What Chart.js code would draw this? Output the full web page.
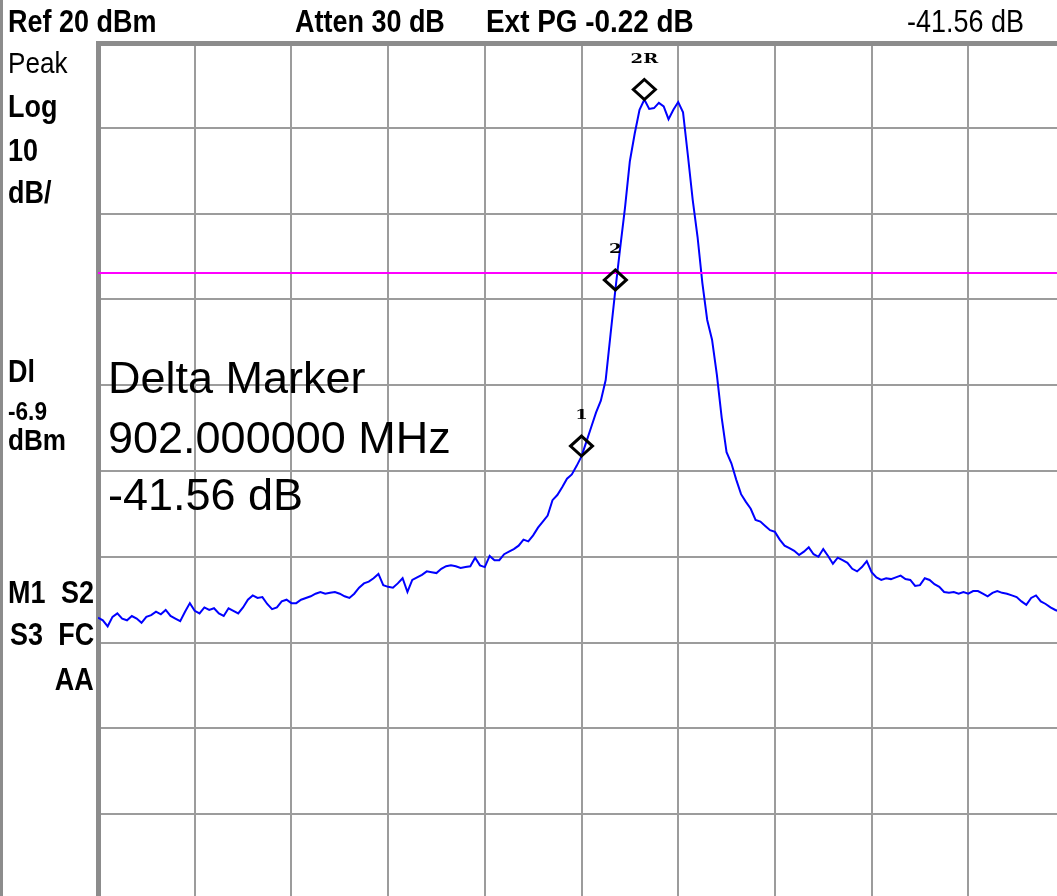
<!DOCTYPE html>
<html>
<head>
<meta charset="utf-8">
<title>Spectrum</title>
<script src="https://cdn.jsdelivr.net/npm/chart.js@4.4.1/dist/chart.umd.min.js"></script>
<style>
  html, body { margin: 0; padding: 0; background: #fff; overflow: hidden; }
  #screen { position: relative; width: 1057px; height: 896px; overflow: hidden; background: #fff; }
  #screen canvas { position: absolute; left: 0; top: 0; }
  #edge { position: absolute; left: 0; top: 0; width: 3px; height: 896px; background: #8c8c8c; }
  .lbl { position: absolute; white-space: nowrap; line-height: 1; color: #000;
         font-family: "Liberation Sans Narrow", "Liberation Sans", Arial, sans-serif; font-size: 31px; font-weight: bold;
         transform: scaleX(0.87); transform-origin: left top; }
  .lbl.rt { transform-origin: right top; }
  .reg { font-weight: normal; }
  .big { font-family: "Liberation Sans", Arial, sans-serif; font-size: 45px; font-weight: normal; left: 108px; transform: none; }
</style>
</head>
<body>
<div id="screen">
  <canvas id="trace" width="1065" height="900"></canvas>
  <div id="edge"></div>

  <div class="lbl" style="left:8px; top:6px" id="refTxt"></div>
  <div class="lbl" style="left:295px; top:6px" id="attTxt"></div>
  <div class="lbl" style="left:486px; top:6px; transform: scaleX(0.9)" id="pgTxt"></div>
  <div class="lbl reg" style="left:907px; top:6px" id="deltaTop"></div>

  <div class="lbl reg" style="left:8px; top:48px; font-size:30px">Peak</div>
  <div class="lbl" style="left:8px; top:91px">Log</div>
  <div class="lbl" style="left:8px; top:135px" id="scaleTxt"></div>
  <div class="lbl" style="left:8px; top:177px">dB/</div>

  <div class="lbl" style="left:8px; top:356px">Dl</div>
  <div class="lbl" style="left:8px; top:398px; font-size:26px" id="dlTxt"></div>
  <div class="lbl" style="left:8px; top:425px; font-size:30px">dBm</div>

  <div class="lbl" style="left:8px; top:577px">M1</div>
  <div class="lbl rt" style="right:963px; top:577px">S2</div>
  <div class="lbl" style="left:10px; top:619px">S3</div>
  <div class="lbl rt" style="right:963px; top:619px">FC</div>
  <div class="lbl rt" style="right:963px; top:664px">AA</div>

  <div class="lbl big" style="top:355px">Delta Marker</div>
  <div class="lbl big" style="top:415px" id="freqTxt"></div>
  <div class="lbl big" style="top:472px" id="deltaTxt"></div>
</div>

<script>
// analyzer settings
const refLevelDbm = 20;
const dbPerDiv = 10;
const attenDb = 30;
const extGainDb = -0.22;
const displayLineDbm = -6.9;
const deltaFreqMHz = 902;
const deltaDb = -41.56;

// sweep trace, one reading every 1/20 division (dBm)
const traceDbm = [
  -47.1, -47.4, -48.1, -47.0, -46.6, -47.2, -47.4, -46.9, -47.2, -47.7,
  -47.0, -46.8, -46.4, -46.7, -46.2, -46.9, -47.2, -47.5, -46.4, -45.4,
  -46.3, -46.6, -45.9, -46.2, -46.0, -46.6, -46.9, -46.0, -46.3, -46.6,
  -45.9, -45.0, -44.5, -44.8, -44.7, -45.5, -46.1, -45.9, -45.2, -45.0,
  -45.4, -45.4, -45.0, -44.8, -44.6, -44.3, -44.1, -44.3, -44.2, -44.1,
  -44.3, -44.6, -44.8, -44.3, -43.6, -43.1, -42.9, -42.5, -42.0, -43.3,
  -43.5, -43.6, -43.1, -42.5, -44.1, -42.7, -42.4, -42.1, -41.7, -41.8,
  -41.9, -41.4, -41.1, -41.0, -41.1, -41.3, -41.2, -41.1, -40.1, -41.0,
  -41.2, -39.9, -40.4, -40.4, -39.7, -39.4, -39.1, -38.7, -38.0, -38.2,
  -37.5, -36.6, -35.9, -35.2, -33.4, -32.8, -31.9, -30.9, -30.4, -29.4,
  -28.3, -26.6, -24.9, -23.2, -21.8, -19.4, -14.1, -8.9, -4.0, 0.7,
  6.1, 9.3, 12.1, 13.3, 12.2, 12.3, 12.9, 12.5, 11.0, 12.1,
  13.0, 11.8, 6.8, 1.6, -2.7, -8.1, -12.4, -14.7, -18.8, -23.8,
  -27.8, -29.1, -31.0, -32.7, -33.6, -34.4, -35.7, -35.9, -36.4, -36.9,
  -37.1, -38.0, -38.7, -39.0, -39.3, -39.8, -39.4, -38.9, -39.7, -40.0,
  -39.1, -39.9, -40.8, -40.1, -40.4, -40.7, -41.4, -41.7, -41.2, -40.5,
  -41.8, -42.4, -42.7, -42.5, -42.6, -42.4, -42.2, -42.6, -42.7, -43.4,
  -43.3, -42.5, -42.7, -43.2, -43.5, -44.1, -44.2, -44.1, -44.3, -44.1,
  -44.3, -44.0, -44.0, -44.3, -44.6, -44.2, -44.0, -44.2, -44.3, -44.5,
  -44.7, -45.2, -45.6, -44.8, -44.5, -45.2, -45.5, -45.9, -46.2, -46.4,
  -46.6
];
const sampleIdx = traceDbm.map((v, i) => i);

// markers: reference (2R) on the peak, 2 on the rising edge, 1 = delta from 2R
const refMarkerIdx = 113;
const markerIdx = [113, 107, 100];
const markerNames = ['2R', '2', '1'];
const markerLevel = [
  traceDbm[refMarkerIdx],
  traceDbm[107],
  traceDbm[refMarkerIdx] + deltaDb
];

const ptsPerDiv = 20;
const numDivs = 10;

document.getElementById('refTxt').textContent = 'Ref ' + refLevelDbm + ' dBm';
document.getElementById('attTxt').textContent = 'Atten ' + attenDb + ' dB';
document.getElementById('pgTxt').textContent = 'Ext PG ' + extGainDb.toFixed(2) + ' dB';
document.getElementById('deltaTop').textContent = deltaDb.toFixed(2) + ' dB';
document.getElementById('scaleTxt').textContent = dbPerDiv;
document.getElementById('dlTxt').textContent = displayLineDbm;
document.getElementById('freqTxt').textContent = deltaFreqMHz.toFixed(6) + ' MHz';
document.getElementById('deltaTxt').textContent = deltaDb.toFixed(2) + ' dB';

// thick frame on the top and left edges of the graticule
const framePlugin = {
  id: 'frame',
  beforeDatasetsDraw(chart) {
    const { ctx, chartArea: a } = chart;
    ctx.save();
    ctx.fillStyle = '#8c8c8c';
    ctx.fillRect(a.left - 2, a.top - 1, a.right - a.left + 2, 5);
    ctx.fillRect(a.left - 2, a.top - 1, 5, a.bottom - a.top + 1);
    ctx.restore();
  }
};

// display line and marker diamonds
const markerPlugin = {
  id: 'markers',
  afterDatasetsDraw(chart) {
    const { ctx, chartArea: a, scales: { x, y } } = chart;
    ctx.save();
    const dl = Math.round(y.getPixelForValue(displayLineDbm));
    ctx.strokeStyle = '#ff00ff';
    ctx.lineWidth = 2;
    ctx.beginPath();
    ctx.moveTo(a.left, dl);
    ctx.lineTo(a.right, dl);
    ctx.stroke();

    markerIdx.forEach((idx, k) => {
      const px = x.getPixelForValue(idx);
      const py = y.getPixelForValue(markerLevel[k]);
      ctx.beginPath();
      ctx.moveTo(px, py - 20);
      ctx.lineTo(px + 11, py - 10);
      ctx.lineTo(px, py);
      ctx.lineTo(px - 11, py - 10);
      ctx.closePath();
      ctx.lineWidth = 3;
      ctx.strokeStyle = '#000';
      ctx.stroke();

      ctx.save();
      ctx.translate(px, py - 40);
      ctx.scale(1.5, 1);
      ctx.font = 'bold 12px "DejaVu Serif", serif';
      ctx.textAlign = 'center';
      ctx.textBaseline = 'middle';
      ctx.fillStyle = '#000';
      ctx.fillText(markerNames[k], 0, 0);
      ctx.restore();
    });
    ctx.restore();
  }
};

new Chart(document.getElementById('trace').getContext('2d'), {
  type: 'line',
  data: {
    labels: sampleIdx,
    datasets: [{
      data: traceDbm,
      borderColor: '#0000ff',
      borderWidth: 2,
      pointRadius: 0,
      tension: 0,
      fill: false
    }]
  },
  options: {
    responsive: false,
    animation: false,
    devicePixelRatio: 1,
    layout: { padding: { left: 98, top: 42, right: 0, bottom: 0 } },
    plugins: { legend: { display: false }, tooltip: { enabled: false } },
    scales: {
      x: {
        type: 'linear',
        min: 0,
        max: ptsPerDiv * numDivs,
        ticks: { display: false, stepSize: ptsPerDiv },
        grid: { color: '#9c9c9c', lineWidth: 2, drawTicks: false },
        border: { display: false }
      },
      y: {
        min: refLevelDbm - dbPerDiv * numDivs,
        max: refLevelDbm,
        ticks: { display: false, stepSize: dbPerDiv },
        grid: { color: '#9c9c9c', lineWidth: 2, drawTicks: false },
        border: { display: false }
      }
    }
  },
  plugins: [framePlugin, markerPlugin]
});
</script>
</body>
</html>
